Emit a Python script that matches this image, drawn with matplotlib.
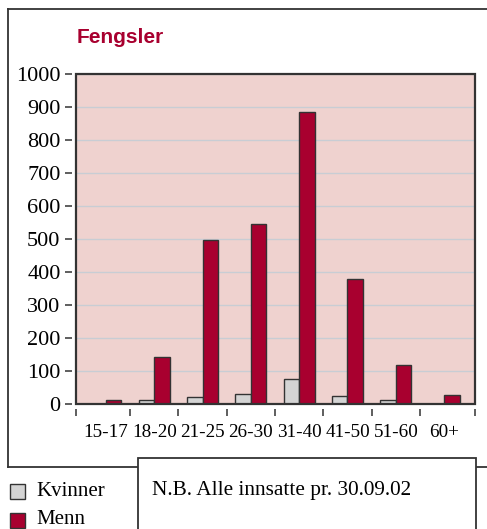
import matplotlib
matplotlib.use("Agg")
import matplotlib.pyplot as plt
from matplotlib.patches import Rectangle
from matplotlib.lines import Line2D

age_groups = ["15-17", "18-20", "21-25", "26-30", "31-40", "41-50", "51-60", "60+"]
kvinner = [0, 13, 21, 31, 75, 24, 13, 0]
menn = [13, 141, 497, 545, 885, 380, 119, 27]
y_ticks = [0, 100, 200, 300, 400, 500, 600, 700, 800, 900, 1000]

RED = "#A8002F"
GREY = "#D4D4D4"
PINK = "#EFD2CF"
GRID = "#C8CDD4"
DARK = "#333333"

plt.rcParams["font.family"] = ["Liberation Serif", "DejaVu Serif"]

W, H = 487, 529
fig = plt.figure(figsize=(W / 100, H / 100), dpi=100)


def fx(x):
    return x / W


def fy(y):
    return 1 - y / H


# outer frame (open on the right)
fig.add_artist(Line2D([fx(8), 1.01], [fy(9), fy(9)], color=DARK, lw=1.3))
fig.add_artist(Line2D([fx(8), fx(8)], [fy(9), fy(466.7)], color=DARK, lw=1.3))
fig.add_artist(Line2D([fx(8), 1.01], [fy(466.7), fy(466.7)], color=DARK, lw=1.3))

# plot area
ax = fig.add_axes([fx(75.7), fy(404), fx(475) - fx(75.7), fy(74) - fy(404)])
ax.set_facecolor(PINK)
n = len(age_groups)
xs = list(range(n))
w = 0.32
ax.bar([x - w / 2 for x in xs], kvinner, width=w, color=GREY,
       edgecolor=DARK, linewidth=1.0, zorder=3)
ax.bar([x + w / 2 for x in xs], menn, width=w, color=RED,
       edgecolor=DARK, linewidth=1.0, zorder=3)

x0, x1 = -0.627, 7.64
ax.set_xlim(x0, x1)
ax.set_ylim(0, 1000)
ax.grid(axis="y", color=GRID, lw=1.0, zorder=1)

ax.set_xticks([x0] + [x + 0.5 for x in xs[:-1]] + [x1])
ax.set_xticks(xs, minor=True)
ax.tick_params(axis="x", which="major", length=5, width=1.1, color=DARK,
               labelbottom=False)
ax.tick_params(axis="x", which="minor", length=0, pad=11, labelsize=13.8)
ax.tick_params(axis="y", length=5, width=1.1, color=DARK, pad=3,
               labelsize=16)
ax.set_yticks(y_ticks)
ax.set_yticklabels([str(v) for v in y_ticks])
ax.set_xticklabels(age_groups, minor=True)

for s in ax.spines.values():
    s.set_visible(False)
ax.spines["left"].set_position(("outward", 2.9))
ax.spines["bottom"].set_position(("outward", 3.6))
ax.add_patch(Rectangle((0, 0), 1, 1, transform=ax.transAxes, fill=False,
                       ec=DARK, lw=1.6, zorder=5, clip_on=False))

fig.text(fx(77), fy(43.3), "Fengsler", family="Liberation Sans",
         fontweight="bold", fontsize=15, color=RED, va="baseline")

# note box
fig.add_artist(Rectangle((fx(137.7), fy(535)), fx(476) - fx(137.7),
                         fy(458.3) - fy(535), facecolor="white",
                         edgecolor=DARK, lw=1.3, zorder=6))
fig.text(fx(152), fy(491), "N.B. Alle innsatte pr. 30.09.02",
         fontsize=15.3, va="center", zorder=7)

# legend
for label, col, yc in [("Kvinner", GREY, 491), ("Menn", RED, 520)]:
    fig.add_artist(Rectangle((fx(9.5), fy(yc + 7.5)), fx(15), 15 / H,
                             facecolor=col, edgecolor=DARK, lw=1.0))
    fig.text(fx(36), fy(yc), label, fontsize=15, va="center")

fig.savefig("out.png", dpi=100)
